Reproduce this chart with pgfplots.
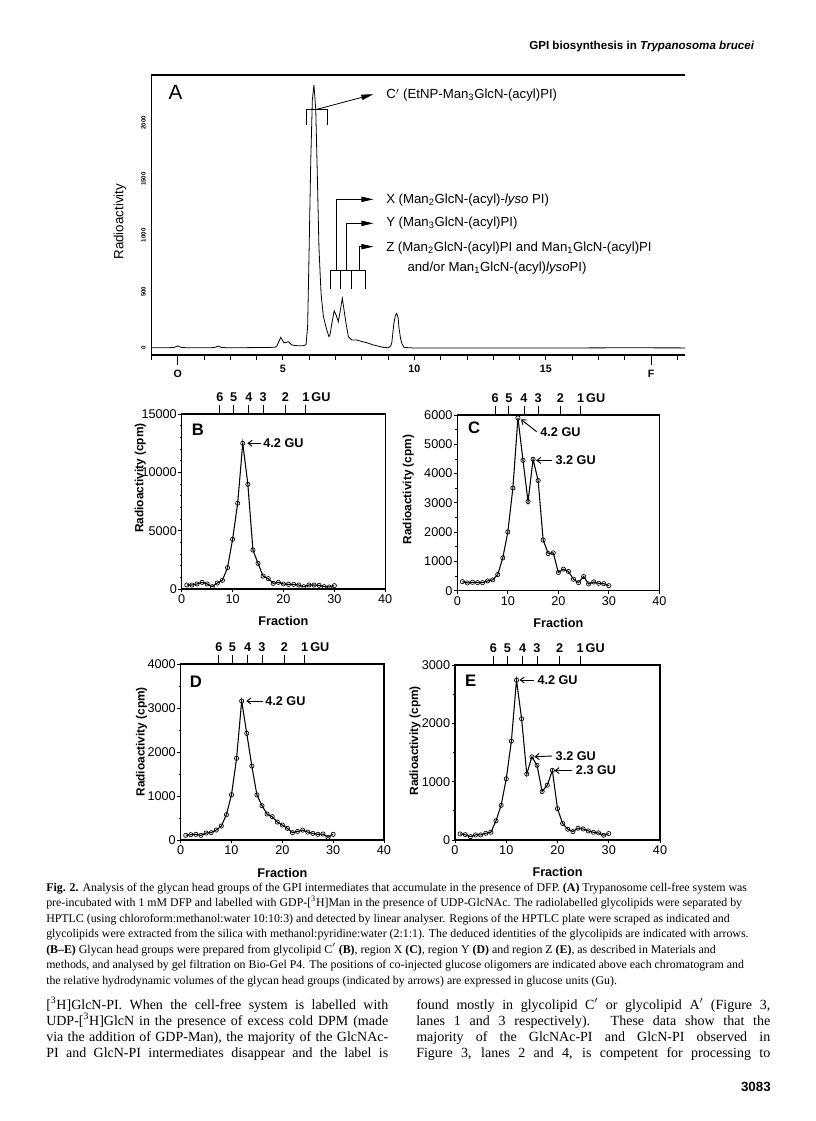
\documentclass[border=0pt]{standalone}
\usepackage{fontspec}
\setmainfont{Liberation Serif}
\setsansfont{Liberation Sans}
\usepackage{pgfplots}
\pgfplotsset{compat=1.18}
\usetikzlibrary{arrows.meta}
\newcommand{\fs}[1]{\fontsize{#1}{#1}\selectfont}
\pgfplotsset{
 gel/.style={
  scale only axis, anchor=north west, clip=false,
  xmin=0, xmax=40, xtick={0,10,20,30,40}, ymin=0,
  axis line style={line width=0.8pt},
  tick style={black, line width=0.6pt},
  tick align=outside, major tick length=2.5pt, minor tick length=1.5pt,
  tick pos=left,
  ticklabel style={font=\sffamily\fs{9.5}},
  yticklabel style={inner sep=1pt},
  xticklabel style={inner sep=1.5pt},
  /pgf/number format/assume math mode=true,
  /pgf/number format/1000 sep={},
  scaled y ticks=false,
  xlabel={Fraction},
  xlabel style={font=\sffamily\bfseries\fs{9.5}, at={(axis description cs:0.5,-0.185)}, anchor=center},
  ylabel={Radioactivity (cpm)},
  ylabel style={font=\sffamily\bfseries\fs{8.9}, anchor=center},
 },
 gelplot/.style={black, line width=0.8pt, mark=o, mark size=1.6pt, mark options={line width=0.5pt, fill=white, solid}},
}
\tikzset{
 arr/.style={line width=0.7pt, -{Straight Barb[length=3pt,width=4.5pt]}},
 gulab/.style={font=\sffamily\bfseries\fs{9.5}, inner sep=0pt, anchor=west},
 plab/.style={font=\sffamily\bfseries\fs{12.5}},
}
\newcommand{\gutick}[2]{%
 \draw[line width=0.6pt] (axis cs:#1,#2) -- ++(0pt,7pt);}
\newcommand{\gulabel}[3]{%
 \node[font=\sffamily\bfseries\fs{9.5}, inner sep=0pt, anchor=center] at (axis cs:#1,#2) [yshift=12.75pt] {#3};}
\newcommand{\guscale}[1]{%
 \gutick{7.5}{#1}\gutick{10.2}{#1}\gutick{13.2}{#1}\gutick{16.0}{#1}\gutick{20.4}{#1}\gutick{24.4}{#1}%
 \gulabel{7.5}{#1}{6}\gulabel{10.2}{#1}{5}\gulabel{13.2}{#1}{4}\gulabel{16.0}{#1}{3}\gulabel{20.4}{#1}{2}\gulabel{24.4}{#1}{1\rlap{\,GU}}}
\begin{document}
\begin{tikzpicture}
\begin{scope}[x=0.75pt,y=-0.75pt]
\useasboundingbox (0,0) rectangle (816,1121);
\fill[white] (0,0) rectangle (816,1121);
\end{scope}

% ---------------- Panel A ----------------
\begin{axis}[
 scale only axis, anchor=north west,
 at={(113.55pt,-56.25pt)}, width=400.4pt, height=210pt,
 xmin=0, xmax=20.3, ymin=-62, ymax=2424,
 axis x line*=bottom, axis y line*=left,
 axis line style={line width=0.8pt},
 xtick={0,...,20}, xticklabels={,,,,,5,,,,,10,,,,,15,,,,,},
 extra x ticks={1,19}, extra x tick labels={O,F},
 extra x tick style={major tick length=7.5pt},
 xtick align=outside, major tick length=3.75pt,
 tick style={black, line width=0.6pt},
 xticklabel style={font=\sffamily\bfseries\fs{8}},
 ytick={0,500,1000,1500,2000},
 ytick style={draw=none},
 yticklabel style={rotate=90, anchor=south, inner sep=4pt, font=\sffamily\bfseries\fs{4.6}},
 ylabel={Radioactivity},
 ylabel style={font=\sffamily\fs{10}, at={(axis description cs:-0.0588,0.476)}, anchor=center},
 /pgf/number format/assume math mode=true, /pgf/number format/1000 sep={},
 clip=false,
]
\addplot[black, line width=0.6pt] table {
0 2
0.6 2
0.85 5
1.0 18
1.15 4
1.5 2
2.3 3
2.45 8
2.54 18
2.65 6
2.9 2
3.5 3
4.0 4
4.5 5
4.7 8
4.76 12
4.85 60
4.92 95
4.98 70
5.04 47
5.12 50
5.21 56
5.28 40
5.34 27
5.53 21
5.78 21
5.88 30
5.94 189
5.99 781
6.06 1670
6.12 2202
6.18 2336
6.25 2114
6.31 1522
6.37 900
6.45 485
6.54 278
6.67 160
6.75 101
6.79 115
6.87 230
6.95 331
7.03 290
7.11 234
7.18 330
7.26 441
7.33 330
7.40 219
7.49 101
7.62 71
7.81 71
8.0 58
8.19 47
8.44 27
8.82 6
9.01 2
9.10 20
9.14 45
9.22 219
9.28 290
9.33 308
9.38 270
9.41 189
9.47 90
9.52 41
9.61 5
10.0 0
12 1
15 0
18 2
20.3 1
};
\draw[line width=0.8pt] (rel axis cs:0,1) -- (rel axis cs:1,1);
\node[font=\sffamily\fs{15.5}] at (axis cs:0.92,2269) {A};
% C' bracket
\draw[line width=0.6pt] (axis cs:5.88,1980) -- (axis cs:5.88,2119) -- (axis cs:6.69,2119) -- (axis cs:6.69,1980);
\draw[line width=0.6pt, -{Triangle[length=9pt,width=4pt]}] (axis cs:6.29,2119) -- (axis cs:8.44,2253);
\node[anchor=west, inner sep=0pt, font=\sffamily\fs{9.9}] at (axis cs:8.92,2244) {C$'$ (EtNP-Man\textsubscript{3}GlcN-(acyl)PI)};
% X Y Z bracket
\draw[line width=0.6pt] (axis cs:6.79,521) -- (axis cs:6.79,687) -- (axis cs:8.12,687) -- (axis cs:8.12,521);
\draw[line width=0.6pt] (axis cs:7.17,687) -- (axis cs:7.17,521);
\draw[line width=0.6pt] (axis cs:7.62,687) -- (axis cs:7.62,521);
\draw[line width=0.6pt, -{Triangle[length=9pt,width=4pt]}] (axis cs:7.04,687) -- (axis cs:7.04,1320) -- (axis cs:8.44,1320);
\draw[line width=0.6pt, -{Triangle[length=9pt,width=4pt]}] (axis cs:7.43,687) -- (axis cs:7.43,1107) -- (axis cs:8.44,1107);
\draw[line width=0.6pt, -{Triangle[length=9pt,width=4pt]}] (axis cs:7.89,687) -- (axis cs:7.89,900) -- (axis cs:8.44,900);
\node[anchor=west, inner sep=0pt, font=\sffamily\fs{9.9}] at (axis cs:8.92,1314) {X (Man\textsubscript{2}GlcN-(acyl)-\textit{lyso} PI)};
\node[anchor=west, inner sep=0pt, font=\sffamily\fs{9.9}] at (axis cs:8.92,1107) {Y (Man\textsubscript{3}GlcN-(acyl)PI)};
\node[anchor=west, inner sep=0pt, font=\sffamily\fs{9.9}] at (axis cs:8.92,885) {Z (Man\textsubscript{2}GlcN-(acyl)PI and Man\textsubscript{1}GlcN-(acyl)PI};
\node[anchor=west, inner sep=0pt, font=\sffamily\fs{9.9}] at (axis cs:9.73,708) {and/or Man\textsubscript{1}GlcN-(acyl)\textit{lyso}PI)};
\end{axis}

% ---------------- Panel B ----------------
\begin{axis}[gel, at={(136.3pt,-310.5pt)}, width=152.6pt, height=131.25pt,
 ymax=15000, ytick={0,5000,10000,15000}, minor y tick num=4,
 ylabel style={at={(axis description cs:-0.204,0.634)}}]
\addplot[gelplot] table {
1 343
2 343
3 430
4 570
5 430
6 200
7 514
8 743
9 1830
10 4260
11 7350
12 12490
13 8970
14 3340
15 2200
16 1110
17 890
18 486
19 571
20 429
21 400
22 400
23 343
24 200
25 343
26 343
27 314
28 200
29 171
30 286
};
\node[plab] at (rel axis cs:0.08,0.91) {B};
\guscale{15000}
\draw[arr] (axis cs:15.5,12490) -- (axis cs:12.9,12490);
\node[gulab] at (axis cs:16.0,12490) {4.2 GU};
\end{axis}

% ---------------- Panel C ----------------
\begin{axis}[gel, at={(343pt,-311.25pt)}, width=151.5pt, height=131.8pt,
 ymax=6000, ytick={0,1000,...,6000}, minor y tick num=1,
 ylabel style={at={(axis description cs:-0.243,0.576)}}]
\addplot[gelplot] table {
1 311
2 265
3 288
4 277
5 277
6 335
7 369
8 554
9 1119
10 2008
11 3508
12 5900
13 4454
14 3046
15 4488
16 3762
17 1731
18 1269
19 1292
20 623
21 738
22 658
23 392
24 277
25 485
26 231
27 300
28 254
29 242
30 173
};
\node[plab] at (rel axis cs:0.083,0.93) {C};
\guscale{6000}
\draw[arr] (axis cs:15.7,5430) -- (axis cs:12.6,5850);
\node[gulab] at (axis cs:16.4,5430) {4.2 GU};
\draw[arr] (axis cs:18.7,4450) -- (axis cs:15.6,4450);
\node[gulab] at (axis cs:19.4,4450) {3.2 GU};
\end{axis}

% ---------------- Panel D ----------------
\begin{axis}[gel, at={(135.5pt,-498pt)}, width=152.5pt, height=132pt,
 ymax=4000, ytick={0,1000,...,4000}, minor y tick num=1,
 ylabel style={at={(axis description cs:-0.192,0.558)}}]
\addplot[gelplot] table {
1 106
2 121
3 129
4 106
5 159
6 167
7 227
8 318
9 576
10 1030
11 1856
12 3159
13 2424
14 1682
15 1023
16 780
17 591
18 530
19 409
20 341
21 265
22 167
23 195
24 225
25 180
26 150
27 129
28 136
29 60
30 129
};
\node[plab] at (rel axis cs:0.075,0.90) {D};
\guscale{4000}
\draw[arr] (axis cs:16.1,3159) -- (axis cs:12.9,3159);
\node[gulab] at (axis cs:16.6,3159) {4.2 GU};
\end{axis}

% ---------------- Panel E ----------------
\begin{axis}[gel, at={(341.25pt,-498.75pt)}, width=153.75pt, height=131.25pt,
 ymax=3000, ytick={0,1000,...,3000}, minor y tick num=1,
 ylabel style={at={(axis description cs:-0.195,0.567)}}]
\addplot[gelplot] table {
1 104
2 92
3 58
4 87
5 87
6 115
7 133
8 329
9 594
10 1050
11 1696
12 2740
13 2077
14 1131
15 1425
16 1281
17 831
18 940
19 1194
20 537
21 283
22 185
23 144
24 202
25 190
26 156
27 133
28 121
29 81
30 110
};
\node[plab] at (rel axis cs:0.077,0.91) {E};
\guscale{3000}
\draw[arr] (axis cs:15.4,2743) -- (axis cs:12.6,2743);
\node[gulab] at (axis cs:16.05,2743) {4.2 GU};
\draw[arr] (axis cs:18.9,1440) -- (axis cs:15.5,1428);
\node[gulab] at (axis cs:19.6,1440) {3.2 GU};
\draw[arr] (axis cs:22.8,1190) -- (axis cs:19.4,1190);
\node[gulab] at (axis cs:23.55,1190) {2.3 GU};
\end{axis}

% ---------------- Page text ----------------
\begin{scope}[x=0.75pt,y=-0.75pt, every node/.style={inner sep=0pt, anchor=base west}]
\node[font=\sffamily\bfseries\fs{8.7}] at (529,49) {GPI biosynthesis in \textit{Trypanosoma brucei}};
\node[font=\fs{8.9}] at (46,891) {\textbf{Fig. 2.} Analysis of the glycan head groups of the GPI intermediates that accumulate in the presence of DFP. \textbf{(A)} Trypanosome cell-free system was};
\node[font=\fs{8.9}] at (46,906.5) {pre-incubated with 1 mM DFP and labelled with GDP-[\textsuperscript{3}H]Man in the presence of UDP-GlcNAc. The radiolabelled glycolipids were separated by};
\node[font=\fs{8.9}] at (46,922) {HPTLC (using chloroform:methanol:water 10:10:3) and detected by linear analyser. Regions of the HPTLC plate were scraped as indicated and};
\node[font=\fs{8.9}] at (46,937.5) {glycolipids were extracted from the silica with methanol:pyridine:water (2:1:1). The deduced identities of the glycolipids are indicated with arrows.};
\node[font=\fs{8.9}] at (46,953) {\textbf{(B–E)} Glycan head groups were prepared from glycolipid C$'$ \textbf{(B)}, region X \textbf{(C)}, region Y \textbf{(D)} and region Z \textbf{(E)}, as described in Materials and};
\node[font=\fs{8.9}] at (46,968.5) {methods, and analysed by gel filtration on Bio-Gel P4. The positions of co-injected glucose oligomers are indicated above each chromatogram and};
\node[font=\fs{8.9}] at (46,984) {the relative hydrodynamic volumes of the glycan head groups (indicated by arrows) are expressed in glucose units (Gu).};
\node[font=\fs{10.5}] at (46,1009) {\makebox[256.5pt][s]{[\textsuperscript{3}H]GlcN-PI. When the cell-free system is labelled with}};
\node[font=\fs{10.5}] at (46,1025) {\makebox[256.5pt][s]{UDP-[\textsuperscript{3}H]GlcN in the presence of excess cold DPM (made}};
\node[font=\fs{10.5}] at (46,1041) {\makebox[256.5pt][s]{via the addition of GDP-Man), the majority of the GlcNAc-}};
\node[font=\fs{10.5}] at (46,1057) {\makebox[256.5pt][s]{PI and GlcN-PI intermediates disappear and the label is}};
\node[font=\fs{10.5}] at (416,1009) {\makebox[265.5pt][s]{found mostly in glycolipid C$'$ or glycolipid A$'$ (Figure 3,}};
\node[font=\fs{10.5}] at (416,1025) {\makebox[265.5pt][s]{lanes 1 and 3 respectively). These data show that the}};
\node[font=\fs{10.5}] at (416,1041) {\makebox[265.5pt][s]{majority of the GlcNAc-PI and GlcN-PI observed in}};
\node[font=\fs{10.5}] at (416,1057) {\makebox[265.5pt][s]{Figure 3, lanes 2 and 4, is competent for processing to}};
\node[font=\sffamily\bfseries\fs{10}, anchor=base east] at (771,1091) {3083};
\end{scope}
\end{tikzpicture}
\end{document}
